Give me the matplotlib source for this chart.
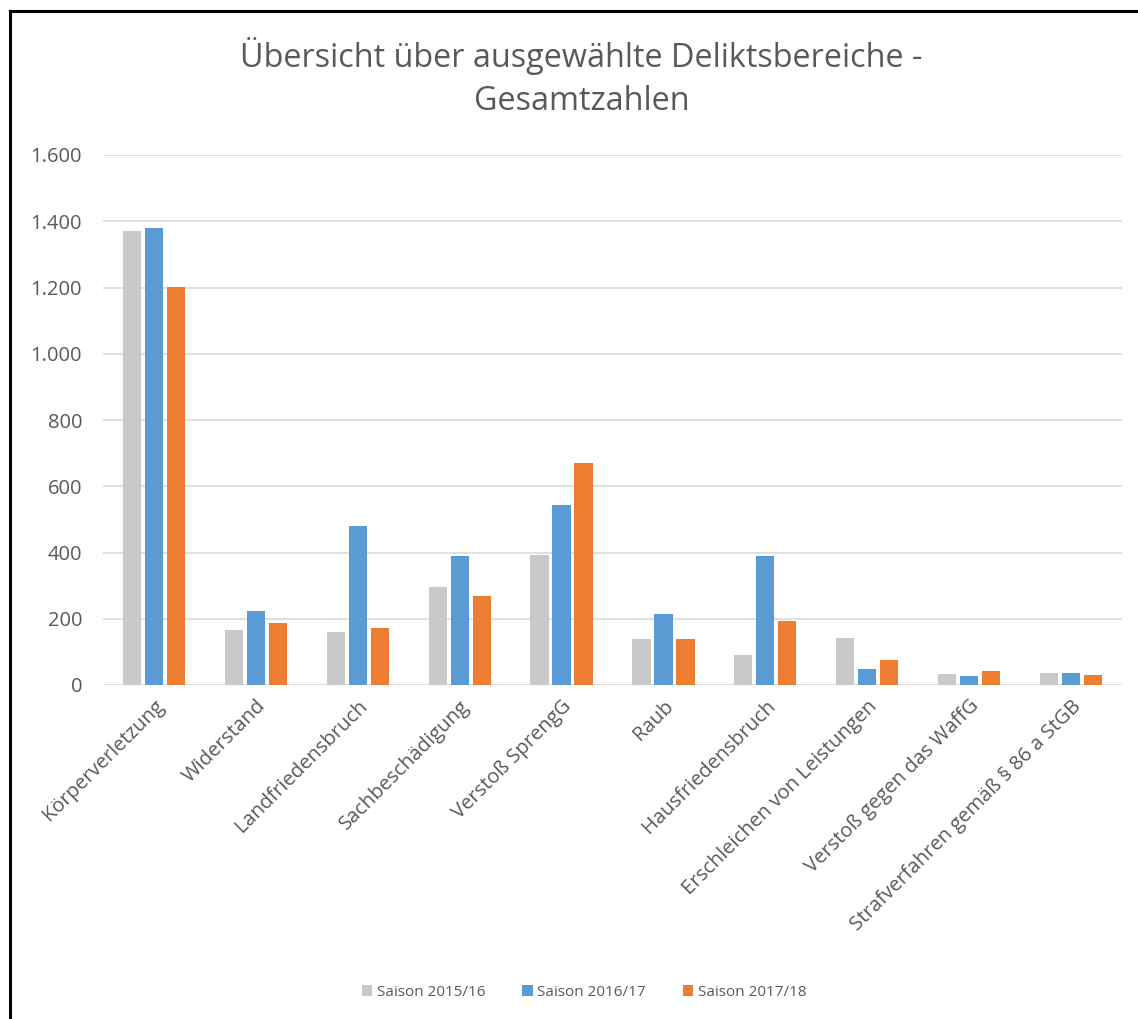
import matplotlib
matplotlib.use("Agg")
import matplotlib.pyplot as plt
from matplotlib.lines import Line2D
from matplotlib.ticker import FuncFormatter
import numpy as np

categories = ["Körperverletzung", "Widerstand", "Landfriedensbruch", "Sachbeschädigung",
              "Verstoß SprengG", "Raub", "Hausfriedensbruch", "Erschleichen von Leistungen",
              "Verstoß gegen das WaffG", "Strafverfahren gemäß § 86 a StGB"]
s2015 = [1372, 166, 161, 297, 393, 139, 92, 142, 33, 37]
s2016 = [1380, 223, 480, 389, 543, 215, 389, 48, 26, 37]
s2017 = [1203, 188, 173, 270, 670, 139, 193, 75, 41, 29]
series_names = ["Saison 2015/16", "Saison 2016/17", "Saison 2017/18"]
colors = ["#C9C9C9", "#5B9BD5", "#ED7D31"]
yticks = [0, 200, 400, 600, 800, 1000, 1200, 1400, 1600]

plt.rcParams['font.family'] = ['Open Sans', 'DejaVu Sans']

fig = plt.figure(figsize=(11.38, 10.19), dpi=100)
ax = fig.add_axes([103/1138, 1-685/1019, (1122-103)/1138, (685-155)/1019])

x = np.arange(len(categories))
step = 0.216
w = 0.178
for i, (vals, name, c) in enumerate(zip([s2015, s2016, s2017], series_names, colors)):
    ax.bar(x + (i-1)*step, vals, width=w, color=c, label=name, zorder=3)

ax.set_xlim(-0.5, len(categories)-0.5)
ax.set_ylim(0, 1600)
ax.set_yticks(yticks)
ax.yaxis.set_major_formatter(FuncFormatter(lambda v, p: f"{int(v):,}".replace(",", ".")))
ax.grid(axis='y', color='#D9D9D9', linewidth=1.2, zorder=0)
for s in ax.spines.values():
    s.set_visible(False)
ax.tick_params(axis='y', length=0, labelsize=14.5, colors='#595959', pad=15)
ax.set_xticks(x)
ax.set_xticklabels(categories, rotation=45, ha='right', va='top', rotation_mode='anchor')
ax.tick_params(axis='x', length=0, labelsize=14.5, colors='#595959', pad=8)

fig.text(0.511, 1-56/1019, "Übersicht über ausgewählte Deliktsbereiche -", ha='center', va='center',
         fontsize=23.3, color='#595959')
fig.text(0.511, 1-101/1019, "Gesamtzahlen", ha='center', va='center', fontsize=23.3, color='#595959')

leg = fig.legend(loc='center', bbox_to_anchor=(584/1138, 1-992/1019), ncol=3, frameon=False,
                 fontsize=11, handlelength=0.7, handleheight=0.7, handletextpad=0.3, columnspacing=2.4)
for t in leg.get_texts():
    t.set_color('#595959')

fig.add_artist(Line2D([9.5/1138, 9.5/1138], [0, 1-11/1019], color='black', linewidth=2.2,
                      transform=fig.transFigure, solid_capstyle='projecting'))
fig.add_artist(Line2D([9.5/1138, 1], [1-11/1019, 1-11/1019], color='black', linewidth=2.2,
                      transform=fig.transFigure, solid_capstyle='projecting'))

fig.savefig("out.png", dpi=100, facecolor='white')
